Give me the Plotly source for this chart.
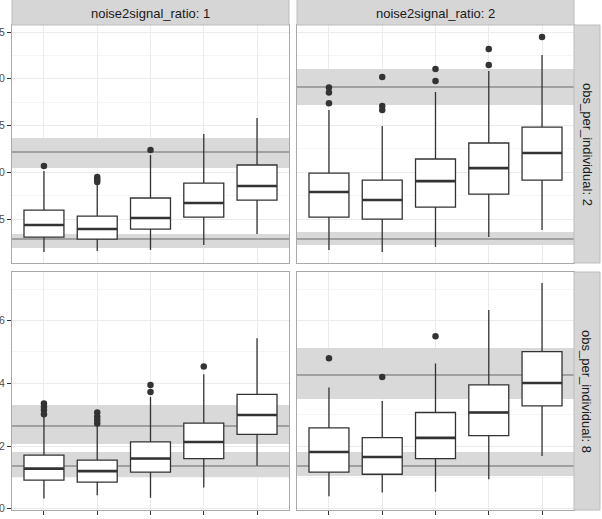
import plotly.graph_objects as go

# ---------------- data ----------------
categories = [1, 2, 3, 4, 5]
cat_labels = ["1", "2", "3", "4", "5"]

col_labels = ["noise2signal_ratio: 1", "noise2signal_ratio: 2"]
row_labels = ["obs_per_individual: 2", "obs_per_individual: 8"]

# top-left: ratio 1, obs 2
tl_lo = [0.147, 0.158, 0.168, 0.222, 0.340]
tl_q1 = [0.307, 0.286, 0.393, 0.521, 0.703]
tl_med = [0.436, 0.393, 0.511, 0.671, 0.853]
tl_q3 = [0.596, 0.532, 0.725, 0.885, 1.078]
tl_hi = [1.013, 0.870, 1.184, 1.409, 1.580]
tl_out = [[1.067], [0.949, 0.922, 0.896], [1.238], [], []]
tl_band_lo = [1.045, 0.190]
tl_band_hi = [1.366, 0.340]
tl_line = [1.217, 0.286]

# top-right: ratio 2, obs 2
tr_lo = [0.168, 0.147, 0.201, 0.307, 0.382]
tr_q1 = [0.521, 0.500, 0.628, 0.767, 0.917]
tr_med = [0.789, 0.703, 0.906, 1.045, 1.206]
tr_q3 = [0.992, 0.917, 1.142, 1.313, 1.484]
tr_hi = [1.666, 1.495, 1.858, 2.083, 2.254]
tr_out = [[1.906, 1.852, 1.738], [2.019, 1.709, 1.666], [2.104, 1.976], [2.318, 2.147], [2.447]]
tr_band_lo = [1.719, 0.222]
tr_band_hi = [2.104, 0.361]
tr_line = [1.912, 0.286]

# bottom-left: ratio 1, obs 8
bl_lo = [0.033, 0.043, 0.035, 0.068, 0.137]
bl_q1 = [0.091, 0.085, 0.117, 0.160, 0.237]
bl_med = [0.128, 0.120, 0.160, 0.213, 0.299]
bl_q3 = [0.171, 0.155, 0.213, 0.273, 0.365]
bl_hi = [0.293, 0.267, 0.357, 0.429, 0.544]
bl_out = [[0.336, 0.325, 0.315, 0.301], [0.307, 0.293, 0.283, 0.272], [0.395, 0.372], [0.454], []]
bl_band_lo = [0.205, 0.102]
bl_band_hi = [0.331, 0.180]
bl_line = [0.264, 0.137]

# bottom-right: ratio 2, obs 8
br_lo = [0.040, 0.052, 0.054, 0.094, 0.168]
br_q1 = [0.117, 0.110, 0.160, 0.233, 0.328]
br_med = [0.181, 0.165, 0.226, 0.307, 0.401]
br_q3 = [0.258, 0.227, 0.307, 0.395, 0.501]
br_hi = [0.387, 0.344, 0.463, 0.634, 0.720]
br_out = [[0.480], [0.420], [0.550], [], []]
br_band_lo = [0.349, 0.105]
br_band_hi = [0.512, 0.181]
br_line = [0.427, 0.137]

top_range = [0.03, 2.575]
bottom_range = [-0.004, 0.755]
top_ticks = [0.5, 1.0, 1.5, 2.0, 2.5]
bottom_ticks = [0.0, 0.2, 0.4, 0.6]

# ---------------- layout geometry ----------------
W, H = 602, 519
FONT = "Liberation Sans, Arial, sans-serif"
DARK = "#333333"
BORDER = "#a9a9a9"
STRIP_FILL = "#d6d6d6"
BAND_FILL = "#d9d9d9"
BAND_LINE = "#a0a0a0"
GRID = "#ebebeb"
GRID_MINOR = "#f5f5f5"
BOX_W = 0.75
X_RANGE = [0.4, 5.6]
X_MID = (X_RANGE[0] + X_RANGE[1]) / 2
X_SPAN = X_RANGE[1] - X_RANGE[0]


def px_x(v):
    return v / W


def px_y(v):
    return 1 - v / H


col_px = [(12, 289), (297, 574)]
row_px = [(25, 263), (272, 510)]

panels = [
    dict(r=0, c=0, lo=tl_lo, q1=tl_q1, med=tl_med, q3=tl_q3, hi=tl_hi, out=tl_out,
         blo=tl_band_lo, bhi=tl_band_hi, line=tl_line),
    dict(r=0, c=1, lo=tr_lo, q1=tr_q1, med=tr_med, q3=tr_q3, hi=tr_hi, out=tr_out,
         blo=tr_band_lo, bhi=tr_band_hi, line=tr_line),
    dict(r=1, c=0, lo=bl_lo, q1=bl_q1, med=bl_med, q3=bl_q3, hi=bl_hi, out=bl_out,
         blo=bl_band_lo, bhi=bl_band_hi, line=bl_line),
    dict(r=1, c=1, lo=br_lo, q1=br_q1, med=br_med, q3=br_q3, hi=br_hi, out=br_out,
         blo=br_band_lo, bhi=br_band_hi, line=br_line),
]

fig = go.Figure()
shapes = []
annotations = []

for i, p in enumerate(panels):
    n = i + 1
    xa = "x" if n == 1 else f"x{n}"
    ya = "y" if n == 1 else f"y{n}"
    xkey = "xaxis" if n == 1 else f"xaxis{n}"
    ykey = "yaxis" if n == 1 else f"yaxis{n}"
    r, c = p["r"], p["c"]
    rng = top_range if r == 0 else bottom_range
    px_per_unit = (row_px[r][1] - row_px[r][0]) / (rng[1] - rng[0])
    line_h = 1.0 / px_per_unit  # one pixel tall, in data units

    # reference bands (bars are drawn above the grid but below the boxes)
    for blo, bhi, ln in zip(p["blo"], p["bhi"], p["line"]):
        fig.add_trace(go.Bar(
            x=[X_MID], y=[bhi - blo], base=[blo], width=[X_SPAN],
            marker=dict(color=BAND_FILL, line=dict(width=0)),
            xaxis=xa, yaxis=ya, showlegend=False, hoverinfo="skip"))
        fig.add_trace(go.Bar(
            x=[X_MID], y=[line_h], base=[ln - line_h / 2], width=[X_SPAN],
            marker=dict(color=BAND_LINE, line=dict(width=0)),
            xaxis=xa, yaxis=ya, showlegend=False, hoverinfo="skip"))

    # boxes
    fig.add_trace(go.Box(
        x=categories, q1=p["q1"], median=p["med"], q3=p["q3"],
        lowerfence=p["lo"], upperfence=p["hi"],
        width=BOX_W, whiskerwidth=0, boxpoints=False,
        fillcolor="white", line=dict(color=DARK, width=1.3),
        xaxis=xa, yaxis=ya, showlegend=False, hoverinfo="skip"))

    # thicker median segments
    mx, my = [], []
    for cat, m in zip(categories, p["med"]):
        mx += [cat - BOX_W / 2, cat + BOX_W / 2, None]
        my += [m, m, None]
    fig.add_trace(go.Scatter(x=mx, y=my, mode="lines",
                             line=dict(color=DARK, width=2.6),
                             xaxis=xa, yaxis=ya, showlegend=False, hoverinfo="skip"))

    # outliers
    ox, oy = [], []
    for cat, outs in zip(categories, p["out"]):
        for v in outs:
            ox.append(cat)
            oy.append(v)
    fig.add_trace(go.Scatter(x=ox, y=oy, mode="markers",
                             marker=dict(color=DARK, size=6.5, line=dict(width=0)),
                             xaxis=xa, yaxis=ya, showlegend=False, hoverinfo="skip"))

    x0, x1 = col_px[c]
    y0, y1 = row_px[r]
    bottom = r == 1
    left = c == 0

    fig.layout[xkey] = dict(
        domain=[px_x(x0), px_x(x1)], anchor=ya, range=X_RANGE,
        tickvals=categories, ticktext=cat_labels,
        showticklabels=bottom, ticks="outside" if bottom else "",
        ticklen=4, tickwidth=1, tickcolor=DARK,
        tickfont=dict(family=FONT, size=10.5, color="#4d4d4d"),
        showgrid=True, gridcolor=GRID, gridwidth=1, zeroline=False,
        showline=True, mirror=True, linecolor=BORDER, linewidth=1,
        automargin=False, fixedrange=True)

    tv = top_ticks if r == 0 else bottom_ticks
    tt = [f"{v:.1f}" for v in tv]
    minor_dt = 0.25 if r == 0 else 0.1
    fig.layout[ykey] = dict(
        domain=[px_y(y1), px_y(y0)], anchor=xa, range=rng,
        tickvals=tv, ticktext=tt,
        showticklabels=left, ticks="outside" if left else "",
        ticklen=4, tickwidth=1, tickcolor=DARK,
        tickfont=dict(family=FONT, size=10.5, color="#4d4d4d"),
        showgrid=True, gridcolor=GRID, gridwidth=1, zeroline=False,
        minor=dict(showgrid=True, gridcolor=GRID_MINOR, gridwidth=0.6, dtick=minor_dt,
                   tick0=0, ticks=""),
        showline=True, mirror=True, linecolor=BORDER, linewidth=1,
        automargin=False, fixedrange=True)

# column strips
for c, lab in enumerate(col_labels):
    x0, x1 = col_px[c]
    shapes.append(dict(type="rect", xref="paper", yref="paper",
                       x0=px_x(x0), x1=px_x(x1), y0=px_y(25), y1=1.01,
                       fillcolor=STRIP_FILL, line=dict(color="#bdbdbd", width=1),
                       layer="above"))
    annotations.append(dict(text=lab, xref="paper", yref="paper",
                            x=px_x((x0 + x1) / 2), y=px_y(13.5),
                            xanchor="center", yanchor="middle", showarrow=False,
                            font=dict(family=FONT, size=13, color="#1a1a1a")))

# row strips
for r, lab in enumerate(row_labels):
    y0, y1 = row_px[r]
    shapes.append(dict(type="rect", xref="paper", yref="paper",
                       x0=px_x(574), x1=px_x(600), y0=px_y(y1), y1=px_y(y0),
                       fillcolor=STRIP_FILL, line=dict(color="#bdbdbd", width=1),
                       layer="above"))
    annotations.append(dict(text=lab, xref="paper", yref="paper",
                            x=px_x(587), y=px_y((y0 + y1) / 2),
                            xanchor="center", yanchor="middle", showarrow=False,
                            textangle=90,
                            font=dict(family=FONT, size=13, color="#1a1a1a")))

fig.update_layout(
    width=W, height=H,
    margin=dict(l=0, r=0, t=0, b=0, pad=0),
    paper_bgcolor="white", plot_bgcolor="white",
    barmode="overlay", bargap=0,
    shapes=shapes, annotations=annotations,
    font=dict(family=FONT),
    showlegend=False,
)

fig.write_html("out.html", config={"displayModeBar": False})
